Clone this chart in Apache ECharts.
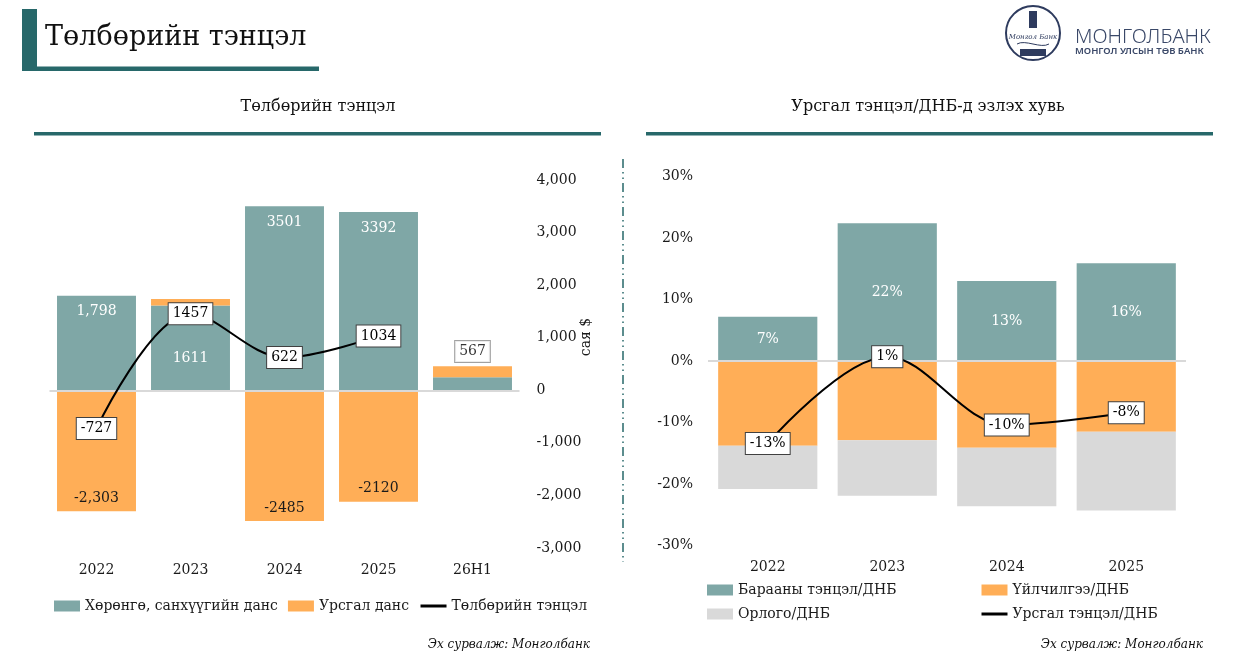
<!DOCTYPE html>
<html><head><meta charset="utf-8">
<script src="https://cdn.jsdelivr.net/npm/echarts/dist/echarts.min.js"></script>
<style>html,body{margin:0;padding:0;background:#fff}#c{width:1247px;height:672px}</style>
</head><body><div id="c"></div><script>
// ---- Left chart data (сая $) ----
const bopCategories = ['2022', '2023', '2024', '2025', '26H1'];
const financialAccount = [1798, 1611, 3501, 3392, 248];
const financialLabels = ['1,798', '1611', '3501', '3392', ''];
const currentAccount = [-2303, 125, -2485, -2120, 209];
const currentLabels = ['-2,303', '', '-2485', '-2120', ''];
const balanceOfPayments = [-727, 1457, 622, 1034, null];
const balanceH1 = [null, null, null, null, 567];
const bopAxisMin = -3000, bopAxisMax = 4000, bopAxisStep = 1000;

// ---- Right chart data (% of GDP) ----
const caCategories = ['2022', '2023', '2024', '2025'];
const goodsGdp = [7.2, 22.4, 13.0, 15.9];
const servicesGdp = [-13.8, -12.9, -14.1, -11.5];
const incomeGdp = [-7.0, -9.0, -9.5, -12.8];
const currentGdp = [-13.4, 0.7, -10.4, -8.4];
const caAxisMin = -30, caAxisMax = 30, caAxisStep = 10;

const SERIF = '"DejaVu Serif", "Liberation Serif", serif';
const TEAL = '#7FA7A6', ORANGE = '#FFAE57', GRAY = '#D9D9D9', DARK = '#27686A', TXT = '#1a1a1a';

const chart = echarts.init(document.getElementById('c'), null, {renderer: 'canvas'});

const boxLabel = {
  show: true, position: 'inside', color: '#000', fontFamily: SERIF, fontSize: 14,
  backgroundColor: '#fff', borderColor: '#404040', borderWidth: 1, padding: [4, 4, 3, 4]
};
const zeroLine = {
  silent: true, symbol: 'none', label: {show: false},
  lineStyle: {color: GRAY, width: 2, type: 'solid'},
  data: [{yAxis: 0}]
};

const option = {
  animation: false,
  backgroundColor: '#fff',
  textStyle: {fontFamily: SERIF},
  grid: [
    {left: 49.5, width: 470, top: 180, height: 368},
    {left: 708, width: 478, top: 176.5, height: 369}
  ],
  xAxis: [
    {type: 'category', gridIndex: 0, data: bopCategories,
     axisLine: {show: false}, axisTick: {show: false},
     axisLabel: {fontFamily: SERIF, fontSize: 14, color: TXT, margin: 15}},
    {type: 'category', gridIndex: 1, data: caCategories,
     axisLine: {show: false}, axisTick: {show: false},
     axisLabel: {fontFamily: SERIF, fontSize: 14, color: TXT, margin: 15}}
  ],
  yAxis: [
    {type: 'value', gridIndex: 0, position: 'right', min: bopAxisMin, max: bopAxisMax, interval: bopAxisStep,
     splitLine: {show: false}, axisLine: {show: false}, axisTick: {show: false},
     axisLabel: {fontFamily: SERIF, fontSize: 14, color: TXT, margin: 17,
       formatter: v => v.toLocaleString('en-US')}},
    {type: 'value', gridIndex: 1, min: caAxisMin, max: caAxisMax, interval: caAxisStep,
     splitLine: {show: false}, axisLine: {show: false}, axisTick: {show: false},
     axisLabel: {fontFamily: SERIF, fontSize: 14, color: TXT, margin: 15, formatter: '{value}%'}}
  ],
  legend: [
    {left: 49, top: 594, itemWidth: 26, itemHeight: 11, itemGap: 10,
     textStyle: {fontFamily: SERIF, fontSize: 14, color: TXT},
     data: [{name: 'Хөрөнгө, санхүүгийн данс', icon: 'rect'}, {name: 'Урсгал данс', icon: 'rect'},
            {name: 'Төлбөрийн тэнцэл', itemStyle: {opacity: 0}, lineStyle: {width: 3}}]},
    {orient: 'vertical', left: 702, top: 577, itemWidth: 26, itemHeight: 11, itemGap: 8,
     textStyle: {fontFamily: SERIF, fontSize: 14, color: TXT, lineHeight: 16},
     data: [{name: 'Барааны тэнцэл/ДНБ', icon: 'rect'}, {name: 'Орлого/ДНБ', icon: 'rect'}]},
    {orient: 'vertical', left: 975, top: 577, itemWidth: 26, itemHeight: 11, itemGap: 8,
     textStyle: {fontFamily: SERIF, fontSize: 14, color: TXT, lineHeight: 16},
     data: [{name: 'Үйлчилгээ/ДНБ', icon: 'rect'},
            {name: 'Урсгал тэнцэл/ДНБ', itemStyle: {opacity: 0}, lineStyle: {width: 3}}]}
  ],
  series: [
    {name: 'Хөрөнгө, санхүүгийн данс', type: 'bar', stack: 'bop', xAxisIndex: 0, yAxisIndex: 0,
     barWidth: '84%', itemStyle: {color: TEAL},
     data: financialAccount.map((v, i) => i === 1 ? {value: v, label: {offset: [0, 37]}} : v),
     label: {show: true, position: 'insideTop', distance: 9, color: '#fff', fontFamily: SERIF, fontSize: 14,
       formatter: p => financialLabels[p.dataIndex]},
     markLine: zeroLine},
    {name: 'Урсгал данс', type: 'bar', stack: 'bop', xAxisIndex: 0, yAxisIndex: 0,
     barWidth: '84%', itemStyle: {color: ORANGE},
     data: currentAccount,
     label: {show: true, position: 'insideBottom', distance: 6, color: TXT, fontFamily: SERIF, fontSize: 14,
       formatter: p => currentLabels[p.dataIndex]}},
    {name: 'Төлбөрийн тэнцэл', type: 'line', xAxisIndex: 0, yAxisIndex: 0, smooth: 0.35,
     symbol: 'circle', symbolSize: 2, itemStyle: {color: '#000'}, lineStyle: {color: '#000', width: 2},
     data: balanceOfPayments, label: boxLabel, z: 5},
    {name: 'Төлбөрийн тэнцэл H1', type: 'scatter', xAxisIndex: 0, yAxisIndex: 0,
     symbolSize: 0, data: balanceH1, z: 5,
     label: Object.assign({}, boxLabel, {borderColor: '#8a8a8a', offset: [0, -9]})},

    {name: 'Барааны тэнцэл/ДНБ', type: 'bar', stack: 'ca', xAxisIndex: 1, yAxisIndex: 1,
     barWidth: '83%', itemStyle: {color: TEAL}, data: goodsGdp,
     label: {show: true, position: 'inside', color: '#fff', fontFamily: SERIF, fontSize: 14,
       formatter: p => Math.round(p.value) + '%'},
     markLine: zeroLine},
    {name: 'Үйлчилгээ/ДНБ', type: 'bar', stack: 'ca', xAxisIndex: 1, yAxisIndex: 1,
     barWidth: '83%', itemStyle: {color: ORANGE}, data: servicesGdp},
    {name: 'Орлого/ДНБ', type: 'bar', stack: 'ca', xAxisIndex: 1, yAxisIndex: 1,
     barWidth: '83%', itemStyle: {color: GRAY}, data: incomeGdp},
    {name: 'Урсгал тэнцэл/ДНБ', type: 'line', xAxisIndex: 1, yAxisIndex: 1, smooth: 0.35,
     symbol: 'circle', symbolSize: 2, itemStyle: {color: '#000'}, lineStyle: {color: '#000', width: 2},
     data: currentGdp, z: 5,
     label: Object.assign({}, boxLabel, {formatter: p => Math.round(p.value) + '%'})}
  ],
  graphic: [
    // header
    {type: 'rect', shape: {x: 22, y: 9, width: 15, height: 62}, style: {fill: DARK}},
    {type: 'rect', shape: {x: 37, y: 66.5, width: 282, height: 4.5}, style: {fill: DARK}},
    {type: 'text', x: 45, y: 38, style: {text: 'Төлбөрийн тэнцэл', fontFamily: SERIF, fontSize: 27,
      fill: '#111', verticalAlign: 'middle', align: 'left'}},
    // sub titles
    {type: 'text', x: 318, y: 107, style: {text: 'Төлбөрийн тэнцэл', fontFamily: SERIF, fontSize: 16,
      fill: '#111', verticalAlign: 'middle', align: 'center'}},
    {type: 'rect', shape: {x: 34, y: 132, width: 567, height: 3.5}, style: {fill: DARK}},
    {type: 'text', x: 928, y: 107, style: {text: 'Урсгал тэнцэл/ДНБ-д эзлэх хувь', fontFamily: SERIF, fontSize: 16,
      fill: '#111', verticalAlign: 'middle', align: 'center'}},
    {type: 'rect', shape: {x: 646, y: 132, width: 567, height: 3.5}, style: {fill: DARK}},
    // separator
    {type: 'line', shape: {x1: 623, y1: 159, x2: 623, y2: 562},
     style: {stroke: DARK, lineWidth: 1.5, lineDash: [9, 4, 1.5, 4, 1.5, 4]}},
    // axis unit
    {type: 'text', x: 586, y: 337, rotation: Math.PI / 2,
     style: {text: 'сая $', fontFamily: SERIF, fontSize: 14, fill: TXT, align: 'center', verticalAlign: 'middle'}},
    // sources
    {type: 'text', x: 590, y: 645, style: {text: 'Эх сурвалж: Монголбанк', fontFamily: SERIF, fontStyle: 'italic',
      fontSize: 12, fill: '#111', align: 'right', verticalAlign: 'middle'}},
    {type: 'text', x: 1203, y: 645, style: {text: 'Эх сурвалж: Монголбанк', fontFamily: SERIF, fontStyle: 'italic',
      fontSize: 12, fill: '#111', align: 'right', verticalAlign: 'middle'}},
    // logo
    {type: 'circle', shape: {cx: 1033, cy: 33, r: 27}, style: {fill: '#fff', stroke: '#2E3B5E', lineWidth: 2}},
    {type: 'rect', shape: {x: 1029, y: 11, width: 8, height: 17}, style: {fill: '#2E3B5E'}},
    {type: 'rect', shape: {x: 1020, y: 49, width: 26, height: 7}, style: {fill: '#2E3B5E'}},
    {type: 'text', x: 1033, y: 37, style: {text: 'Монгол Банк', fontFamily: SERIF, fontStyle: 'italic',
      fontSize: 7, fill: '#2E3B5E', align: 'center', verticalAlign: 'middle'}},
    {type: 'bezierCurve', shape: {x1: 1017, y1: 44, x2: 1049, y2: 44, cpx1: 1025, cpy1: 39, cpx2: 1041, cpy2: 49},
     style: {stroke: '#2E3B5E', lineWidth: 1, fill: null}},
    {type: 'text', x: 1075, y: 37, style: {text: 'МОНГОЛБАНК', fontFamily: '"Noto Sans", sans-serif', fontWeight: 300,
      fontSize: 20, fill: '#3A4868', align: 'left', verticalAlign: 'middle'}},
    {type: 'text', x: 1075, y: 51, style: {text: 'МОНГОЛ УЛСЫН ТӨВ БАНК', fontFamily: '"Noto Sans", sans-serif', fontWeight: 600,
      fontSize: 9.5, fill: '#3A4868', align: 'left', verticalAlign: 'middle'}}
  ]
};
chart.setOption(option);
</script></body></html>
